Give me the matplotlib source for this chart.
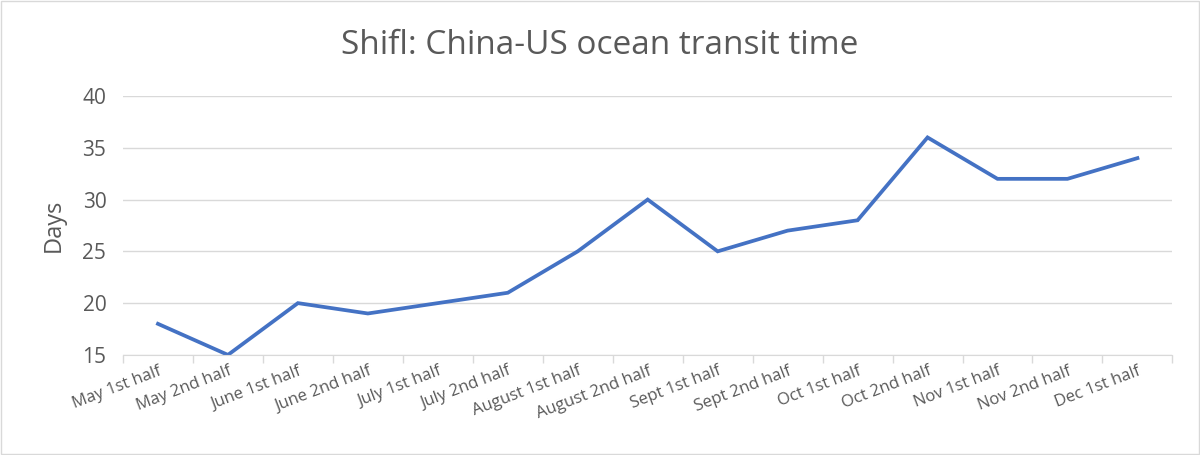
import matplotlib.pyplot as plt
import numpy as np

# Datos ---------------------------------------
periodos = ['May 1st half', 'May 2nd half', 'June 1st half', 'June 2nd half',
            'July 1st half', 'July 2nd half', 'August 1st half', 'August 2nd half',
            'Sept 1st half', 'Sept 2nd half', 'Oct 1st half', 'Oct 2nd half',
            'Nov 1st half', 'Nov 2nd half', 'Dec 1st half']
dias = [18, 15, 20, 19, 20, 21, 25, 30, 25, 27, 28, 36, 32, 32, 34]
yticks = [15, 20, 25, 30, 35, 40]

plt.rcParams['font.family'] = ['Open Sans', 'DejaVu Sans']

fig = plt.figure(figsize=(12, 4.55), dpi=100)
ax = fig.add_axes([0.1025, 0.22, 0.8745, 0.569])

x = np.arange(len(periodos))
ax.plot(x, dias, color='#4472C4', linewidth=2.7, solid_joinstyle='miter')

ax.set_xlim(-0.5, len(periodos) - 0.5)
ax.set_ylim(15, 40)
ax.set_yticks(yticks)
ax.yaxis.grid(True, color='#d9d9d9', linewidth=1)
ax.set_axisbelow(True)

# ticks entre categorias, etiquetas centradas
ax.set_xticks(np.arange(-0.5, len(periodos)), minor=False)
ax.set_xticklabels([])
ax.set_xticks(x, minor=True)
ax.set_xticklabels(periodos, minor=True, rotation=21, ha='right',
                   rotation_mode='anchor', fontsize=12, color='#595959')
ax.tick_params(axis='x', which='major', length=6, color='#d9d9d9', width=1)
ax.tick_params(axis='x', which='minor', length=0, pad=6)
ax.tick_params(axis='y', length=0, labelsize=15, labelcolor='#595959', pad=12)

for s in ['top', 'right', 'left']:
    ax.spines[s].set_visible(False)
ax.spines['bottom'].set_color('#d9d9d9')

ax.set_ylabel('Days', fontsize=17, color='#595959', labelpad=12)
fig.text(0.5, 0.9, 'Shifl: China-US ocean transit time', fontsize=24,
         color='#595959', ha='center', va='center')

# borde de la figura
fig.patches.append(plt.Rectangle((0.001, 0.002), 0.998, 0.996, transform=fig.transFigure,
                                 fill=False, edgecolor='#d9d9d9', linewidth=1))

fig.savefig('out.png', dpi=100)
